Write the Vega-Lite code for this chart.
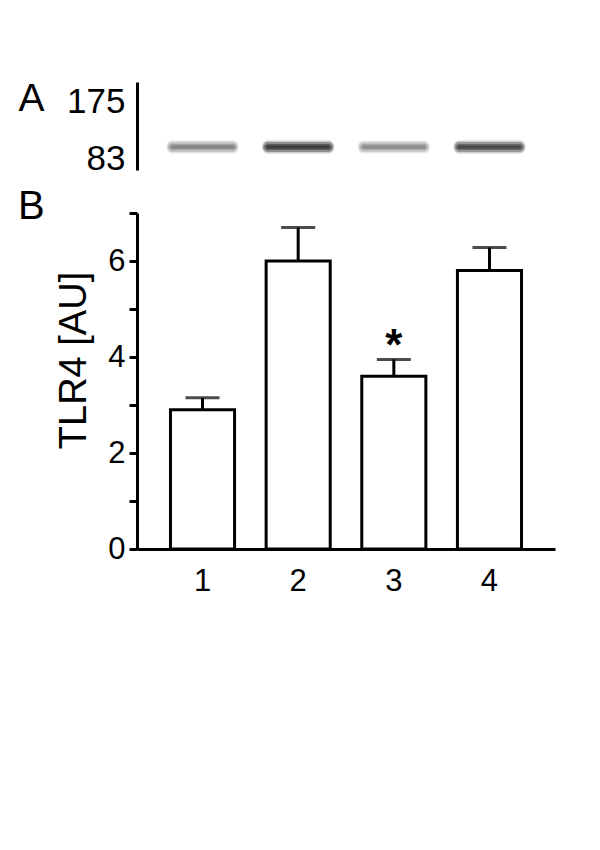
{
  "$schema": "https://vega.github.io/schema/vega-lite/v6.json",
  "background": "white",
  "padding": {"left": 18, "top": 79, "right": 5, "bottom": 5},
  "bounds": "flush",
  "spacing": 43,
  "config": {
    "view": {"stroke": null},
    "font": "Liberation Sans",
    "axis": {"grid": false, "domainColor": "black", "tickColor": "black", "labelColor": "black", "titleColor": "black"}
  },
  "vconcat": [
    {
      "width": 418,
      "height": 88,
      "data": {"values": [
        {"lane": "1", "mw": 101, "density": 0.5},
        {"lane": "2", "mw": 101, "density": 1.0},
        {"lane": "3", "mw": 101, "density": 0.46},
        {"lane": "4", "mw": 101, "density": 0.9}
      ]},
      "encoding": {
        "x": {"field": "lane", "type": "nominal", "scale": {"paddingInner": 0.33, "paddingOuter": 0.35}, "axis": null},
        "y": {"field": "mw", "type": "quantitative", "scale": {"domain": [64, 206], "nice": false, "zero": false},
          "axis": {"values": [83, 175], "ticks": false, "domainWidth": 3, "labelFontSize": 35, "labelPadding": 12,
            "title": "A", "titleAngle": 0, "titleFontSize": 39, "titleFontWeight": "normal", "titleAlign": "left", "titleBaseline": "middle", "titleX": -119, "titleY": 16}}
      },
      "layer": [
        {"mark": {"type": "tick", "size": 72, "thickness": 13, "color": "black", "cornerRadius": 6},
          "encoding": {"opacity": {"field": "density", "type": "quantitative", "scale": {"domain": [0, 1], "range": [0, 0.2]}, "legend": null}}},
        {"mark": {"type": "tick", "size": 70, "thickness": 10, "color": "black", "cornerRadius": 5},
          "encoding": {"opacity": {"field": "density", "type": "quantitative", "scale": {"domain": [0, 1], "range": [0, 0.3]}, "legend": null}}},
        {"mark": {"type": "tick", "size": 67, "thickness": 6, "color": "black", "cornerRadius": 3},
          "encoding": {"opacity": {"field": "density", "type": "quantitative", "scale": {"domain": [0, 1], "range": [0, 0.35]}, "legend": null}}},
        {"mark": {"type": "tick", "size": 63, "thickness": 3, "color": "black", "cornerRadius": 1},
          "encoding": {"opacity": {"field": "density", "type": "quantitative", "scale": {"domain": [0, 1], "range": [0, 0.35]}, "legend": null}}}
      ],
      "resolve": {"scale": {"opacity": "independent"}}
    },
    {
      "width": 418,
      "height": 336,
      "title": {"text": "B", "anchor": "start", "frame": "group", "orient": "top", "fontSize": 40, "fontWeight": "normal", "color": "black", "offset": 0, "baseline": "alphabetic", "dx": -119, "dy": 66},
      "data": {"values": [
        {"group": "1", "mean": 2.9, "err": 3.15, "sig": ""},
        {"group": "2", "mean": 6.0, "err": 6.7, "sig": ""},
        {"group": "3", "mean": 3.6, "err": 3.95, "sig": "*"},
        {"group": "4", "mean": 5.8, "err": 6.28, "sig": ""}
      ]},
      "encoding": {
        "x": {"field": "group", "type": "nominal", "scale": {"paddingInner": 0.33, "paddingOuter": 0.35},
          "axis": {"title": null, "labelAngle": 0, "ticks": false, "domainWidth": 3, "labelFontSize": 31, "labelPadding": 17}}
      },
      "layer": [
        {"mark": {"type": "rule", "strokeWidth": 3, "color": "black"},
          "encoding": {
            "y": {"field": "mean", "type": "quantitative", "scale": {"domain": [0, 7], "nice": false},
              "axis": {"title": "TLR4 [AU]", "values": [0, 1, 2, 3, 4, 5, 6, 7], "labelExpr": "datum.value % 2 == 0 ? datum.label : ''",
                "tickSize": 8, "tickWidth": 3, "domainWidth": 3, "labelFontSize": 31, "labelPadding": 4,
                "titleFontSize": 38, "titleFontWeight": "normal", "titlePadding": 14, "titleY": 147}},
            "y2": {"field": "err"}
          }},
        {"mark": {"type": "tick", "size": 34, "thickness": 3, "color": "black"},
          "encoding": {"y": {"field": "err", "type": "quantitative", "title": "TLR4 [AU]"}}},
        {"mark": {"type": "bar", "fill": "white", "stroke": "black", "strokeWidth": 3},
          "encoding": {"y": {"field": "mean", "type": "quantitative", "title": "TLR4 [AU]"}}},
        {"mark": {"type": "text", "fontSize": 44, "fontWeight": "bold", "baseline": "bottom", "dy": 10, "color": "black"},
          "encoding": {"y": {"field": "err", "type": "quantitative", "title": "TLR4 [AU]"}, "text": {"field": "sig"}}}
      ]
    }
  ]
}
